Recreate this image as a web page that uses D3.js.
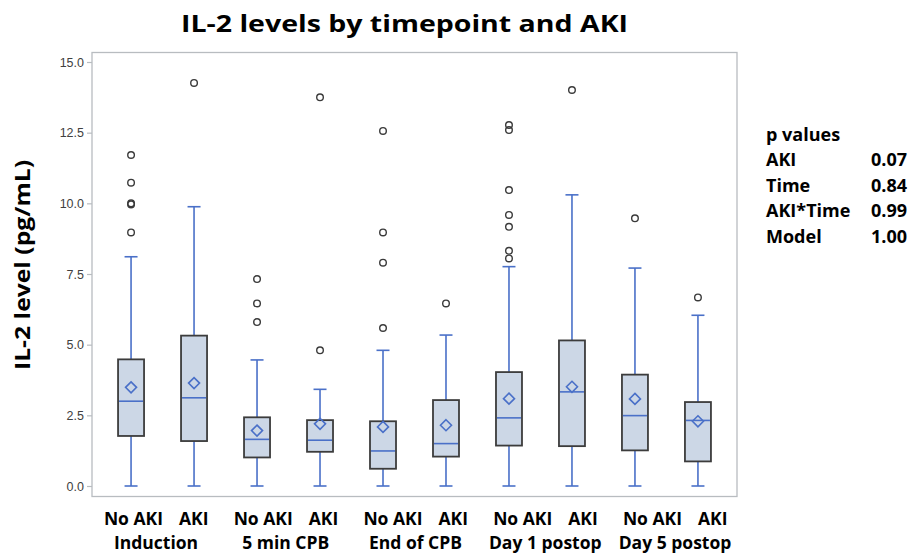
<!DOCTYPE html>
<html>
<head>
<meta charset="utf-8">
<script src="https://cdn.jsdelivr.net/npm/d3@7"></script>
<style>
  body { margin: 0; background: #fff; }
  svg { display: block; }
</style>
</head>
<body>
<div class="chartContainer"></div>
<script>
const width = 910,
  height = 553;

// categories
const timepoints = ["Induction", "5 min CPB", "End of CPB", "Day 1 postop", "Day 5 postop"];
const groups = ["No AKI", "AKI"];
// box stats, in order: Induction NoAKI, Induction AKI, 5min NoAKI, ...
const q1 = [1.77, 1.59, 1.01, 1.21, 0.61, 1.04, 1.43, 1.41, 1.26, 0.87];
const medians = [3.0, 3.12, 1.65, 1.62, 1.24, 1.5, 2.41, 3.33, 2.49, 2.32];
const q3 = [4.48, 5.32, 2.43, 2.33, 2.29, 3.04, 4.03, 5.15, 3.94, 2.97];
const means = [3.49, 3.64, 1.96, 2.2, 2.09, 2.15, 3.09, 3.51, 3.08, 2.29];
const whiskerLow = [0, 0, 0, 0, 0, 0, 0, 0, 0, 0];
const whiskerHigh = [8.11, 9.88, 4.46, 3.42, 4.8, 5.34, 7.76, 10.3, 7.71, 6.04];
const outliers = [
  [11.71, 10.73, 10.0, 9.96, 8.97],
  [14.26],
  [7.32, 6.46, 5.8],
  [13.75, 4.8],
  [12.56, 8.97, 7.9, 5.59],
  [6.46],
  [12.77, 12.59, 10.47, 9.59, 9.17, 8.32, 8.05],
  [14.01],
  [9.47],
  [6.67]
];
const yTicks = [0, 2.5, 5, 7.5, 10, 12.5, 15];
// p values table
const pLabels = ["AKI", "Time", "AKI*Time", "Model"];
const pValues = ["0.07", "0.84", "0.99", "1.00"];

const blue = "#4a70c8",
  boxFill = "#ccd7e6",
  boxStroke = "#3c3c3c",
  frameColor = "#b8bcc0";

const plot = { left: 92, right: 737, top: 52.5, bottom: 496.5 };

const svg = d3
  .select(".chartContainer")
  .append("svg")
  .attr("width", width)
  .attr("height", height)
  .style("font-family", "'Open Sans', Lato, sans-serif");

// one key per box
const keys = [];
timepoints.forEach((t) => groups.forEach((g) => keys.push(t + "|" + g)));

const x = d3
  .scalePoint()
  .domain(keys)
  .range([plot.left, plot.right])
  .padding(0.62);

const y = d3.scaleLinear().domain([0, 15]).range([486, 62]);

// label rows are laid out a bit wider than the boxes
const xLabel = d3.scalePoint().domain(timepoints).range([156, 675]);

// frame
svg
  .append("rect")
  .attr("x", plot.left)
  .attr("y", plot.top)
  .attr("width", plot.right - plot.left)
  .attr("height", plot.bottom - plot.top)
  .attr("fill", "none")
  .attr("stroke", frameColor)
  .attr("stroke-width", 1.3);

// y axis
const yAxis = d3
  .axisLeft(y)
  .tickValues(yTicks)
  .tickFormat(d3.format(".1f"))
  .tickSize(5)
  .tickPadding(3);

const yG = svg
  .append("g")
  .attr("transform", `translate(${plot.left},0)`)
  .call(yAxis);
yG.select(".domain").remove();
yG.selectAll(".tick line").attr("stroke", frameColor).attr("stroke-width", 1.2);
yG.selectAll(".tick text")
  .attr("fill", "#404040")
  .style("font-family", "'Liberation Sans', Arial, sans-serif")
  .style("font-size", "12.5px");

// boxes
const boxW = 26,
  capW = 13;
const boxes = svg
  .selectAll("g.box")
  .data(keys)
  .enter()
  .append("g")
  .attr("class", "box");

boxes.each(function (k, i) {
  const g = d3.select(this);
  const cx = x(k);
  // lower whisker
  g.append("line")
    .attr("x1", cx).attr("x2", cx)
    .attr("y1", y(whiskerLow[i])).attr("y2", y(q1[i]))
    .attr("stroke", blue).attr("stroke-width", 1.6);
  // upper whisker
  g.append("line")
    .attr("x1", cx).attr("x2", cx)
    .attr("y1", y(whiskerHigh[i])).attr("y2", y(q3[i]))
    .attr("stroke", blue).attr("stroke-width", 1.6);
  // caps
  [whiskerLow[i], whiskerHigh[i]].forEach((v) => {
    g.append("line")
      .attr("x1", cx - capW / 2).attr("x2", cx + capW / 2)
      .attr("y1", y(v)).attr("y2", y(v))
      .attr("stroke", blue).attr("stroke-width", 1.6);
  });
  // box
  g.append("rect")
    .attr("x", cx - boxW / 2)
    .attr("y", y(q3[i]))
    .attr("width", boxW)
    .attr("height", y(q1[i]) - y(q3[i]))
    .attr("fill", boxFill)
    .attr("stroke", boxStroke)
    .attr("stroke-width", 1.8);
  // median
  g.append("line")
    .attr("x1", cx - boxW / 2 + 1).attr("x2", cx + boxW / 2 - 1)
    .attr("y1", y(medians[i])).attr("y2", y(medians[i]))
    .attr("stroke", blue).attr("stroke-width", 1.6);
  // mean diamond
  const my = y(means[i]), r = 5.5;
  g.append("path")
    .attr("d", `M${cx},${my - r}L${cx + r},${my}L${cx},${my + r}L${cx - r},${my}Z`)
    .attr("fill", "none")
    .attr("stroke", blue)
    .attr("stroke-width", 1.6);
  // outliers
  g.selectAll("circle")
    .data(outliers[i])
    .enter()
    .append("circle")
    .attr("cx", cx)
    .attr("cy", (d) => y(d))
    .attr("r", 3.3)
    .attr("fill", "none")
    .attr("stroke", "#3a3a3a")
    .attr("stroke-width", 1.4);
});

// title
svg
  .append("text")
  .attr("x", 404.5)
  .attr("y", 32)
  .attr("text-anchor", "middle")
  .attr("textLength", 447)
  .attr("lengthAdjust", "spacingAndGlyphs")
  .style("font-size", "24px")
  .style("font-weight", "bold")
  .text("IL-2 levels by timepoint and AKI");

// y title
svg
  .append("text")
  .attr("transform", "translate(30,265) rotate(-90)")
  .attr("text-anchor", "middle")
  .attr("textLength", 210)
  .attr("lengthAdjust", "spacingAndGlyphs")
  .style("font-size", "22px")
  .style("font-weight", "bold")
  .text("IL-2 level (pg/mL)");

// x labels
const labelSize = "17.5px";
timepoints.forEach((t) => {
  const cx = xLabel(t);
  svg.append("text")
    .attr("x", cx + 7)
    .attr("y", 525)
    .attr("text-anchor", "end")
    .style("font-size", labelSize)
    .style("font-weight", "bold")
    .text(groups[0]);
  svg.append("text")
    .attr("x", cx + 23)
    .attr("y", 525)
    .attr("text-anchor", "start")
    .style("font-size", labelSize)
    .style("font-weight", "bold")
    .text(groups[1]);
  svg.append("text")
    .attr("x", cx)
    .attr("y", 549)
    .attr("text-anchor", "middle")
    .style("font-size", labelSize)
    .style("font-weight", "bold")
    .text(t);
});

// p values
const pG = svg.append("g").style("font-size", "18px").style("font-weight", "bold");
pG.append("text").attr("x", 766).attr("y", 141).text("p values");
pLabels.forEach((l, i) => {
  const yy = 166 + i * 25.5;
  pG.append("text").attr("x", 766).attr("y", yy).text(l);
  pG.append("text").attr("x", 907).attr("y", yy).attr("text-anchor", "end").text(pValues[i]);
});
</script>
</body>
</html>
